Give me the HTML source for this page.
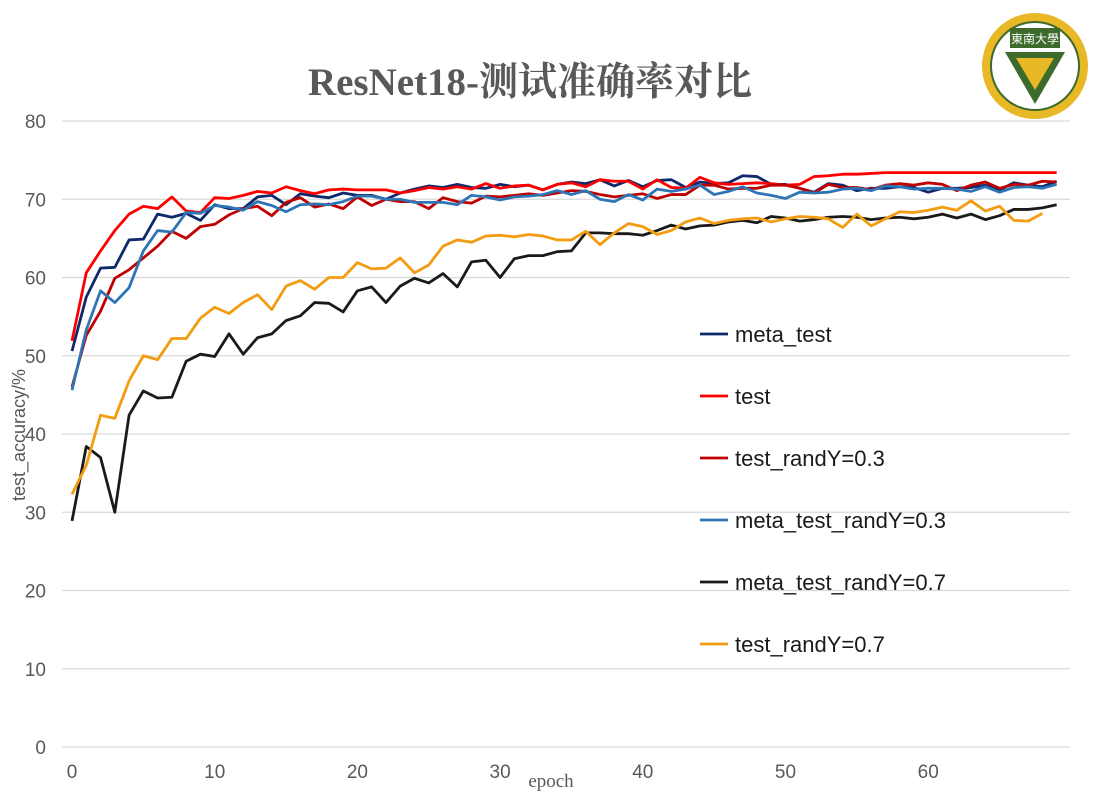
<!DOCTYPE html>
<html><head><meta charset="utf-8"><style>
body{margin:0;background:#fff}
svg{display:block;font-family:"Liberation Sans","Noto Sans CJK SC",sans-serif}
</style></head><body>
<svg width="1104" height="803" id="c">
<text x="530" y="95" text-anchor="middle" font-family="Liberation Serif,'Noto Serif CJK SC',serif" font-weight="bold" font-size="39" fill="#595959">ResNet18-测试准确率对比</text>
<g>
<circle cx="1035" cy="66" r="53" fill="#e9b826"/>
<circle cx="1035" cy="66" r="44" fill="#fff" stroke="#3d6b2c" stroke-width="2"/>
<rect x="1010" y="28" width="50" height="20" fill="#3d6b2c"/>
<text x="1035" y="43" text-anchor="middle" font-size="12" fill="#fff">東南大學</text>
<polygon points="1005,52 1065,52 1035,104" fill="#3d6b2c"/>
<polygon points="1016,58 1054,58 1035,90" fill="#e9b826"/>
</g>
<g id="grid"></g>
<g id="yt"></g>
<g id="xt"></g>
<g id="lines"></g>
<g id="legend"></g>
<text transform="translate(25,435) rotate(-90)" text-anchor="middle" font-size="18" fill="#595959">test_accuracy/%</text>
<text x="551" y="787" text-anchor="middle" font-family="Liberation Serif,serif" font-size="19" fill="#595959">epoch</text>
</svg>
<script>
const yTicks=[0,10,20,30,40,50,60,70,80];
const xTicks=[0,10,20,30,40,50,60];
const seriesNames=["meta_test","test","test_randY=0.3","meta_test_randY=0.3","meta_test_randY=0.7","test_randY=0.7"];
const seriesColors=["#0e2a6b","#ff0000","#c00000","#2e75b6","#1a1a1a","#f39c12"];
const metaTest=[50.6,57.5,61.2,61.3,64.8,64.9,68.1,67.7,68.2,67.3,69.3,68.8,68.8,70.3,70.5,69.3,70.7,70.4,70.2,70.8,70.5,70.5,70.0,70.8,71.3,71.7,71.5,71.9,71.5,71.4,71.9,71.6,71.8,71.2,71.9,72.2,72.0,72.5,71.7,72.4,71.6,72.4,72.5,71.5,72.2,72.0,72.1,73.0,72.9,71.9,71.9,71.4,70.9,72.0,71.8,71.1,71.4,71.4,71.6,71.5,70.9,71.4,71.4,71.5,71.8,71.2,72.1,71.8,71.6,72.3];
const test=[51.9,60.6,63.4,66.0,68.1,69.1,68.8,70.3,68.5,68.3,70.2,70.1,70.5,71.0,70.8,71.6,71.1,70.7,71.2,71.3,71.2,71.2,71.2,70.8,71.1,71.5,71.3,71.6,71.3,72.0,71.4,71.7,71.8,71.2,71.9,72.1,71.6,72.5,72.3,72.3,71.3,72.5,71.5,71.4,72.8,72.1,71.9,72.0,72.1,72.0,71.8,71.9,72.9,73.0,73.2,73.2,73.3,73.4,73.4,73.4,73.4,73.4,73.4,73.4,73.4,73.4,73.4,73.4,73.4,73.4];
const testR3=[46.0,52.6,55.7,59.9,61.0,62.5,64.0,65.9,65.0,66.5,66.8,68.0,68.8,69.1,67.9,69.6,70.2,69.0,69.4,68.8,70.3,69.2,70.0,69.7,69.7,68.8,70.2,69.7,69.5,70.4,70.3,70.5,70.7,70.5,70.8,71.1,71.0,70.6,70.3,70.5,70.7,70.1,70.6,70.6,71.8,71.8,71.3,71.4,71.4,71.8,71.8,71.4,70.8,71.9,71.5,71.5,71.2,71.8,72.0,71.8,72.1,71.9,71.1,71.8,72.2,71.4,71.9,71.8,72.3,72.2];
const metaR3=[45.6,53.3,58.3,56.8,58.7,63.4,66.0,65.8,68.3,68.2,69.2,69.0,68.6,69.7,69.2,68.4,69.3,69.4,69.3,69.7,70.4,70.4,70.0,70.0,69.6,69.6,69.6,69.3,70.5,70.3,69.9,70.3,70.4,70.6,71.1,70.6,71.1,70.0,69.7,70.6,69.9,71.3,71.0,71.3,71.8,70.6,71.0,71.6,70.8,70.5,70.1,70.9,70.8,70.9,71.3,71.4,71.1,71.7,71.6,71.3,71.4,71.4,71.3,71.0,71.6,70.9,71.5,71.6,71.4,71.9];
const metaR7=[28.9,38.4,37.0,30.0,42.4,45.5,44.6,44.7,49.3,50.2,49.9,52.8,50.2,52.3,52.8,54.5,55.1,56.8,56.7,55.6,58.3,58.8,56.8,58.9,59.9,59.3,60.5,58.8,62.0,62.2,60.0,62.4,62.8,62.8,63.3,63.4,65.7,65.7,65.6,65.6,65.4,66.0,66.7,66.2,66.6,66.7,67.1,67.3,67.0,67.8,67.6,67.2,67.4,67.7,67.8,67.7,67.4,67.6,67.7,67.5,67.7,68.1,67.6,68.1,67.4,67.9,68.7,68.7,68.9,69.3];
const testR7=[32.3,36.0,42.4,42.0,46.8,50.0,49.5,52.2,52.2,54.8,56.2,55.4,56.8,57.8,55.9,58.9,59.6,58.5,60.0,60.0,61.9,61.1,61.2,62.5,60.6,61.6,64.0,64.8,64.5,65.3,65.4,65.2,65.5,65.3,64.8,64.8,65.9,64.2,65.7,66.9,66.5,65.5,66.0,67.1,67.6,66.9,67.3,67.5,67.6,67.1,67.5,67.8,67.7,67.5,66.4,68.1,66.6,67.5,68.4,68.3,68.6,69.0,68.6,69.8,68.5,69.1,67.3,67.2,68.2];
const allSeries=[metaTest,test,testR3,metaR3,metaR7,testR7];
const NS="http://www.w3.org/2000/svg";
const X=v=>72+v*14.27, Y=v=>747-v*7.825;
function mk(t,a,p){const e=document.createElementNS(NS,t);for(const k in a)e.setAttribute(k,a[k]);p.appendChild(e);return e;}
const g=document.getElementById('grid'),yt=document.getElementById('yt'),xt=document.getElementById('xt');
yTicks.forEach(v=>{
 const l=mk('line',{x1:62,x2:1070,y1:Y(v),y2:Y(v),stroke:'#d9d9d9','stroke-width':1.3},g);
 
 
 const t=mk('text',{x:46,y:Y(v)+7,'text-anchor':'end','font-size':19,fill:'#595959'},yt);
 t.textContent=v;
 
 
});
xTicks.forEach(v=>{
 const t=mk('text',{x:X(v),y:778,'text-anchor':'middle','font-size':19,fill:'#595959'},xt);
 t.textContent=v;
 
 
});
const L=document.getElementById('lines'),lg=document.getElementById('legend');
allSeries.forEach((s,i)=>{
 const p=mk('polyline',{points:s.map((v,j)=>X(j)+','+Y(v)).join(' '),fill:'none',stroke:seriesColors[i],'stroke-width':2.8,'stroke-linejoin':'round'},L);
 
 
 const ly=334+i*62;
 const ll=mk('line',{x1:700,x2:728,y1:ly,y2:ly,stroke:seriesColors[i],'stroke-width':2.8},lg);
 
 
 const lt=mk('text',{x:735,y:ly+8,'font-size':22,fill:'#1a1a1a'},lg);
 lt.textContent=seriesNames[i];
 
 
});
</script>
</body></html>
